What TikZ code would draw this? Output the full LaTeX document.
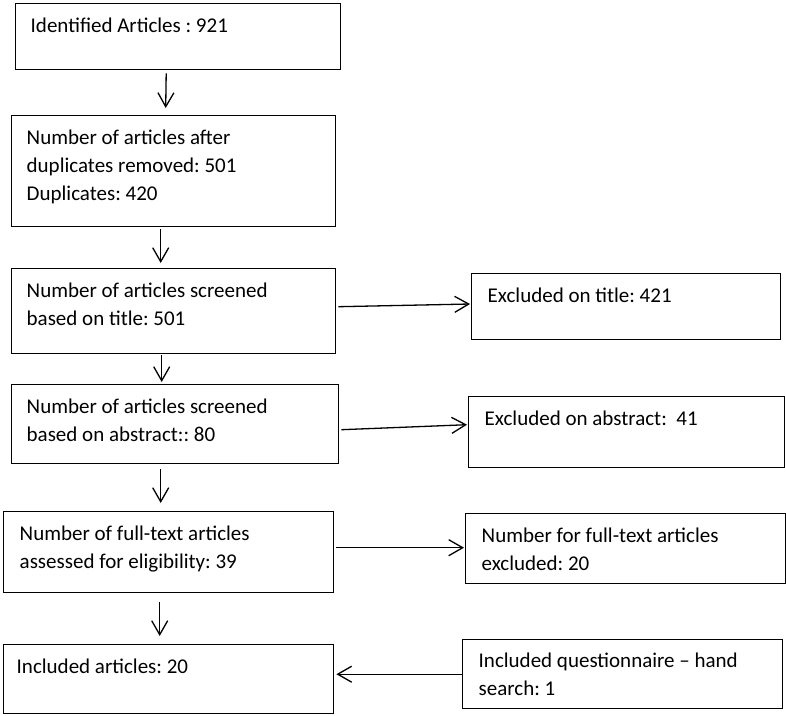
\documentclass[tikz,border=0pt]{standalone}
\usepackage{fontspec}
\setmainfont{Carlito}
\usetikzlibrary{arrows.meta}
\tikzset{
  flowbox/.style={rectangle, draw, line width=1.4pt, inner sep=0pt, anchor=north west},
  flowarrow/.style={-{Straight Barb[length=14pt,width=16pt]}, line width=1.3pt}
}
\begin{document}
\fontsize{21pt}{28pt}\selectfont\frenchspacing
\begin{tikzpicture}[x=1pt,y=-1pt]
\useasboundingbox (0,0) rectangle (786,715);
% left column
\node[flowbox] (ident) at (15,3) {\begin{minipage}[t][66pt][t]{325pt}\leftskip=15pt\rule{0pt}{29pt}Identified Articles : 921
\end{minipage}};
\node[flowbox] (dedup) at (11,115) {\begin{minipage}[t][111pt][t]{324pt}\leftskip=15pt\rule{0pt}{29pt}Number of articles after\\
duplicates removed: 501\\
Duplicates: 420
\end{minipage}};
\node[flowbox] (title) at (11,268) {\begin{minipage}[t][85pt][t]{324pt}\leftskip=15pt\rule{0pt}{29pt}Number of articles screened\\
based on title: 501
\end{minipage}};
\node[flowbox] (abstr) at (11,384) {\begin{minipage}[t][79pt][t]{327pt}\leftskip=15pt\rule{0pt}{29pt}Number of articles screened\\
based on abstract:: 80
\end{minipage}};
\node[flowbox] (fulltext) at (3,511) {\begin{minipage}[t][81pt][t]{330pt}\leftskip=16pt\rule{0pt}{29pt}Number of full-text articles\\
assessed for eligibility: 39
\end{minipage}};
\node[flowbox] (incl) at (3,644) {\begin{minipage}[t][69pt][t]{330pt}\leftskip=13pt\rule{0pt}{29pt}Included articles: 20
\end{minipage}};
% right column
\node[flowbox] (extitle) at (471,273) {\begin{minipage}[t][66pt][t]{309pt}\leftskip=16pt\rule{0pt}{29pt}Excluded on title: 421
\end{minipage}};
\node[flowbox] (exabstr) at (468,396) {\begin{minipage}[t][71pt][t]{316pt}\leftskip=16pt\rule{0pt}{29pt}Excluded on abstract:\ \ 41
\end{minipage}};
\node[flowbox] (exfull) at (465,513) {\begin{minipage}[t][70pt][t]{320pt}\leftskip=16pt\rule{0pt}{29pt}Number for full-text articles\\
excluded: 20
\end{minipage}};
\node[flowbox] (hand) at (462,639) {\begin{minipage}[t][69pt][t]{320pt}\leftskip=16pt\rule{0pt}{28pt}Included questionnaire -- hand\\
search: 1
\end{minipage}};
% arrows
\draw[flowarrow] ([shift={(-12,3)}]ident.south) -- ([shift={(-8,-7)}]dedup.north);
\draw[flowarrow] ([shift={(-13,2)}]dedup.south) -- ([shift={(-13,-5)}]title.north);
\draw[flowarrow] ([shift={(-12,1)}]title.south) -- ([shift={(-13.5,-2)}]abstr.north);
\draw[flowarrow] ([shift={(-14.5,5)}]abstr.south) -- ([shift={(-8,-8)}]fulltext.north);
\draw[flowarrow] ([shift={(-9,9)}]fulltext.south) -- ([shift={(-9,-8)}]incl.north);
\draw[flowarrow] ([shift={(2,-4.5)}]title.east) -- ([shift={(-1,-2.7)}]extitle.west);
\draw[flowarrow] ([shift={(2,5.5)}]abstr.east) -- ([shift={(-1,-7.5)}]exabstr.west);
\draw[flowarrow] ([shift={(2,-4.5)}]fulltext.east) -- ([shift={(-1,-1)}]exfull.west);
\draw[flowarrow] (hand.west) -- ([xshift=2pt]incl.east |- hand.west);
\end{tikzpicture}
\end{document}
